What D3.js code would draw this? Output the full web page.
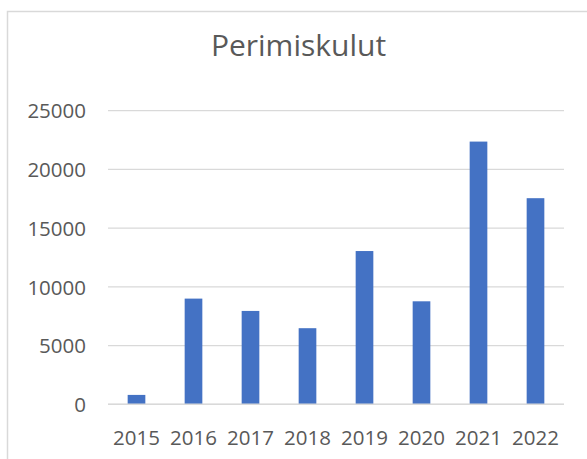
<!DOCTYPE html>
<html>
<head>
<meta charset="utf-8">
<script src="https://cdn.jsdelivr.net/npm/d3@7"></script>
<style>
  html, body { margin: 0; padding: 0; background: #ffffff; }
  svg { display: block; }
</style>
</head>
<body>
<svg id="chart" width="587" height="459"></svg>
<script>
const title = "Perimiskulut";
const categories = ["2015", "2016", "2017", "2018", "2019", "2020", "2021", "2022"];
const values = [800, 9000, 7950, 6480, 13050, 8770, 22370, 17550];
const yTicks = [0, 5000, 10000, 15000, 20000, 25000];

const svg = d3.select("#chart");
const font = "'Open Sans', 'Liberation Sans', sans-serif";
const textColor = "#595959";
const gridColor = "#d9d9d9";
const barColor = "#4472c4";

// outer chart border (extends beyond the visible area right/bottom)
svg.append("rect")
  .attr("x", 7.5).attr("y", 11.5)
  .attr("width", 700).attr("height", 600)
  .attr("fill", "#ffffff")
  .attr("stroke", gridColor)
  .attr("stroke-width", 1.5);

const plot = { left: 108, right: 564, top: 110.7, bottom: 404.3 };

const x = d3.scaleBand()
  .domain(categories)
  .range([plot.left, plot.right])
  .paddingInner(0.69)
  .paddingOuter(0.345);

const y = d3.scaleLinear()
  .domain([0, 25000])
  .range([plot.bottom, plot.top]);

// gridlines
svg.append("g")
  .selectAll("line")
  .data(yTicks)
  .join("line")
  .attr("x1", plot.left).attr("x2", plot.right)
  .attr("y1", d => y(d)).attr("y2", d => y(d))
  .attr("stroke", gridColor)
  .attr("stroke-width", 1.3);

// y axis labels
const yAxis = d3.axisLeft(y).tickValues(yTicks).tickSize(0).tickPadding(0).tickFormat(d3.format("d"));
const gy = svg.append("g").attr("transform", "translate(86,0)").call(yAxis);
gy.select(".domain").remove();
gy.selectAll("text")
  .attr("fill", textColor)
  .attr("font-family", font)
  .attr("font-size", "20.5px")
  .attr("dy", "0.35em");

// bars
svg.append("g")
  .selectAll("rect")
  .data(values)
  .join("rect")
  .attr("x", (d, i) => x(categories[i]))
  .attr("y", d => y(d))
  .attr("width", x.bandwidth())
  .attr("height", d => y(0) - y(d))
  .attr("fill", barColor);

// baseline
svg.append("line")
  .attr("x1", plot.left).attr("x2", plot.right)
  .attr("y1", y(0)).attr("y2", y(0))
  .attr("stroke", gridColor)
  .attr("stroke-width", 1.5);

// x axis labels
const xAxis = d3.axisBottom(x).tickSize(0).tickPadding(0);
const gx = svg.append("g").attr("transform", "translate(0,438)").call(xAxis);
gx.select(".domain").remove();
gx.selectAll("text")
  .attr("fill", textColor)
  .attr("font-family", font)
  .attr("font-size", "20.5px")
  .attr("dy", "0.35em");

// title
svg.append("text")
  .attr("x", 298.5).attr("y", 56)
  .attr("text-anchor", "middle")
  .attr("fill", textColor)
  .attr("font-family", font)
  .attr("font-size", "30px")
  .text(title);
</script>
</body>
</html>
